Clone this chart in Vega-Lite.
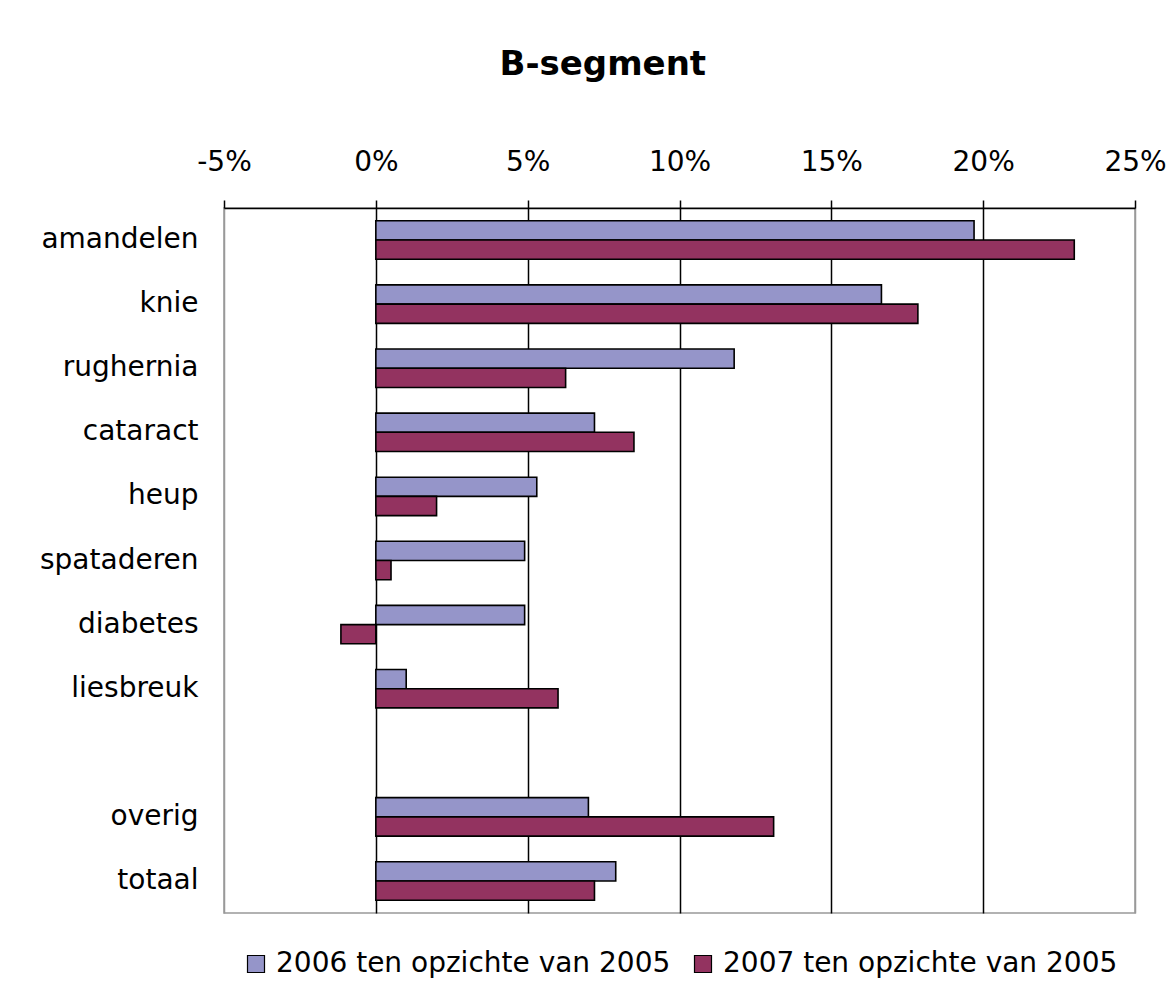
{
  "$schema": "https://vega.github.io/schema/vega-lite/v6.json",
  "width": 911,
  "height": 705,
  "autosize": {"type": "none"},
  "padding": {"left": 224, "top": 208, "right": 41, "bottom": 75},
  "background": "white",
  "title": {
    "text": "B-segment",
    "font": "DejaVu Sans",
    "fontSize": 34,
    "fontWeight": "bold",
    "color": "black",
    "anchor": "middle",
    "frame": "bounds",
    "offset": 66
  },
  "data": {
    "values": [
      {"categorie": "amandelen", "reeks": "2006 ten opzichte van 2005", "waarde": 19.7},
      {"categorie": "amandelen", "reeks": "2007 ten opzichte van 2005", "waarde": 23.0},
      {"categorie": "knie", "reeks": "2006 ten opzichte van 2005", "waarde": 16.65},
      {"categorie": "knie", "reeks": "2007 ten opzichte van 2005", "waarde": 17.85},
      {"categorie": "rughernia", "reeks": "2006 ten opzichte van 2005", "waarde": 11.8},
      {"categorie": "rughernia", "reeks": "2007 ten opzichte van 2005", "waarde": 6.25},
      {"categorie": "cataract", "reeks": "2006 ten opzichte van 2005", "waarde": 7.2},
      {"categorie": "cataract", "reeks": "2007 ten opzichte van 2005", "waarde": 8.5},
      {"categorie": "heup", "reeks": "2006 ten opzichte van 2005", "waarde": 5.3},
      {"categorie": "heup", "reeks": "2007 ten opzichte van 2005", "waarde": 2.0},
      {"categorie": "spataderen", "reeks": "2006 ten opzichte van 2005", "waarde": 4.9},
      {"categorie": "spataderen", "reeks": "2007 ten opzichte van 2005", "waarde": 0.5},
      {"categorie": "diabetes", "reeks": "2006 ten opzichte van 2005", "waarde": 4.9},
      {"categorie": "diabetes", "reeks": "2007 ten opzichte van 2005", "waarde": -1.15},
      {"categorie": "liesbreuk", "reeks": "2006 ten opzichte van 2005", "waarde": 1.0},
      {"categorie": "liesbreuk", "reeks": "2007 ten opzichte van 2005", "waarde": 6.0},
      {"categorie": "overig", "reeks": "2006 ten opzichte van 2005", "waarde": 7.0},
      {"categorie": "overig", "reeks": "2007 ten opzichte van 2005", "waarde": 13.1},
      {"categorie": "totaal", "reeks": "2006 ten opzichte van 2005", "waarde": 7.9},
      {"categorie": "totaal", "reeks": "2007 ten opzichte van 2005", "waarde": 7.2}
    ]
  },
  "mark": {"type": "bar", "stroke": "black", "strokeWidth": 1.6},
  "encoding": {
    "y": {
      "field": "categorie",
      "type": "nominal",
      "scale": {
        "domain": ["amandelen", "knie", "rughernia", "cataract", "heup", "spataderen", "diabetes", "liesbreuk", " ", "overig", "totaal"],
        "paddingInner": 0.4,
        "paddingOuter": 0.2
      },
      "axis": {
        "title": null,
        "ticks": false,
        "domain": false,
        "labelPadding": 26,
        "labelFont": "DejaVu Sans",
        "labelFontSize": 28,
        "labelColor": "black"
      }
    },
    "yOffset": {
      "field": "reeks",
      "type": "nominal",
      "scale": {"paddingInner": 0, "paddingOuter": 0}
    },
    "x": {
      "field": "waarde",
      "type": "quantitative",
      "scale": {"domain": [-5, 25], "nice": false, "zero": false},
      "axis": {
        "orient": "top",
        "title": null,
        "values": [-5, 0, 5, 10, 15, 20, 25],
        "labelExpr": "datum.value + '%'",
        "labelFont": "DejaVu Sans",
        "labelFontSize": 28,
        "labelColor": "black",
        "labelPadding": 24,
        "labelFlush": false,
        "tickSize": 8,
        "tickColor": "black",
        "tickWidth": 1.5,
        "domainColor": "black",
        "domainWidth": 1.5,
        "grid": true,
        "gridColor": {"condition": {"test": "datum.value > -4 && datum.value < 24", "value": "black"}, "value": "#999999"},
        "gridWidth": 1.5,
        "gridOpacity": 1
      }
    },
    "color": {
      "field": "reeks",
      "type": "nominal",
      "scale": {
        "domain": ["2006 ten opzichte van 2005", "2007 ten opzichte van 2005"],
        "range": ["#9595C9", "#933360"]
      },
      "legend": {
        "title": null,
        "orient": "bottom",
        "direction": "horizontal",
        "offset": 37,
        "symbolType": "square",
        "symbolSize": 289,
        "symbolStrokeColor": "black",
        "symbolStrokeWidth": 1.2,
        "symbolOpacity": 1,
        "labelFont": "DejaVu Sans",
        "labelFontSize": 28,
        "labelColor": "black",
        "labelOffset": 6,
        "columnPadding": 18,
        "labelLimit": 500
      }
    }
  },
  "config": {
    "view": {"stroke": "#999999", "strokeWidth": 1.5},
    "legend": {"layout": {"bottom": {"anchor": "middle"}}}
  }
}
